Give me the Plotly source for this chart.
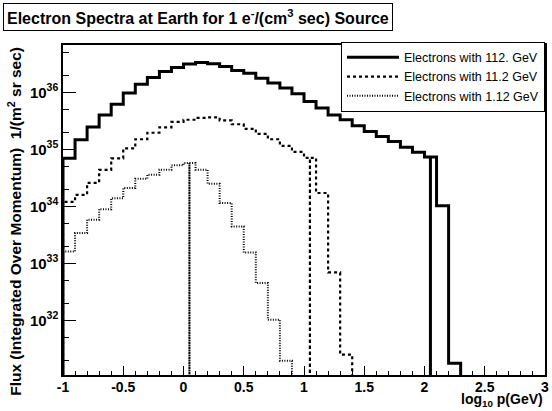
import numpy as np
import plotly.graph_objects as go

# ---- data -------------------------------------------------------------
bin_edges = np.round(np.linspace(-1.0, 3.0, 41), 2)  # log10 p(GeV), 0.1 wide bins

energies = [112.0, 11.2, 1.12]  # GeV
labels = ["Electrons with 112. GeV", "Electrons with 11.2 GeV", "Electrons with 1.12 GeV"]

flux_112 = [7.0e34, 1.47e35, 2.45e35, 4.0e35, 6.2e35, 9.7e35, 1.39e36, 1.82e36, 2.32e36, 2.72e36,
            3.13e36, 3.33e36, 3.16e36, 2.84e36, 2.41e36, 2.17e36, 1.77e36, 1.45e36, 1.19e36, 9.4e35,
            6.9e35, 5.3e35, 4.0e35, 3.3e35, 2.6e35, 2.05e35, 1.68e35, 1.37e35, 1.09e35, 8.9e34,
            7.3e34, 1.02e34, 1.77e31, 0, 0, 0, 0, 0, 0, 0]
flux_11_2 = [1.2e34, 1.59e34, 2.58e34, 4.37e34, 6.95e34, 1.04e35, 1.5e35, 1.95e35, 2.43e35, 3.03e35,
             3.3e35, 3.57e35, 3.64e35, 3.23e35, 2.75e35, 2.29e35, 1.87e35, 1.5e35, 1.15e35, 9.0e34,
             7.1e34, 1.71e34, 6.9e32, 2.5e31, 0, 0, 0, 0, 0, 0,
             0, 0, 0, 0, 0, 0, 0, 0, 0, 0]
flux_1_12 = [1.61e33, 3.39e33, 5.8e33, 8.9e33, 1.39e34, 2.09e34, 3.03e34, 3.57e34, 4.37e34, 5.24e34,
             5.73e34, 4.37e34, 2.48e34, 1.14e34, 4.42e33, 1.55e33, 4.5e32, 1.02e32, 1.95e31, 0,
             0, 0, 0, 0, 0, 0, 0, 0, 0, 0,
             0, 0, 0, 0, 0, 0, 0, 0, 0, 0]

x_tick_vals = [-1, -0.5, 0, 0.5, 1, 1.5, 2, 2.5, 3]
x_tick_text = ["-1", "-0.5", "0", "0.5", "1", "1.5", "2", "2.5", "3"]
y_tick_vals = [1e32, 1e33, 1e34, 1e35, 1e36]
y_tick_text = ["10<sup>32</sup>", "10<sup>33</sup>", "10<sup>34</sup>", "10<sup>35</sup>", "10<sup>36</sup>"]

# ---- helpers ------------------------------------------------------------
FLOOR = 1e20  # stands in for empty bins on the log axis (below the visible range)


def step_path(edges, vals, dip):
    xs, ys = [edges[0]], [FLOOR]
    for i, v in enumerate(vals):
        v = v if v > 0 else FLOOR
        lo, hi = edges[i], edges[i + 1]
        xs.append(lo); ys.append(v)
        if lo < dip < hi:
            xs += [dip, dip, dip]
            ys += [v, FLOOR, v]
        xs.append(hi); ys.append(v)
    xs.append(edges[-1]); ys.append(FLOOR)
    return xs, ys


FONT = "Liberation Sans, Arial, Helvetica, sans-serif"
styles = [dict(width=3, dash="solid"),
          dict(width=2.2, dash="3px,3px"),
          dict(width=2, dash="1px,1.5px")]

fig = go.Figure()
for flux, e, lab, st in zip([flux_112, flux_11_2, flux_1_12], energies, labels, styles):
    xs, ys = step_path(bin_edges, flux, np.log10(e))
    fig.add_trace(go.Scatter(x=xs, y=ys, mode="lines", name=lab,
                             line=dict(color="black", width=st["width"], dash=st["dash"])))

fig.update_layout(
    width=552, height=411,
    margin=dict(l=63, r=3, t=45, b=36),
    paper_bgcolor="white", plot_bgcolor="white",
    font=dict(family=FONT, color="black"),
    showlegend=True,
    legend=dict(x=1, xanchor="right", y=1.01, yanchor="top",
                bgcolor="white", bordercolor="black", borderwidth=1,
                font=dict(family=FONT, size=12.5, color="black"),
                itemwidth=52, tracegroupgap=0),
    xaxis=dict(range=[-1, 3], showgrid=False, zeroline=False,
               showline=True, linecolor="black", linewidth=1.5, mirror=True,
               ticks="inside", ticklen=9, tickcolor="black",
               tickvals=x_tick_vals, ticktext=x_tick_text, ticklabeloverflow="allow",
               ticklabelstandoff=-2,
               tickfont=dict(family=FONT, size=14, color="black", weight="bold"),
               minor=dict(ticks="inside", ticklen=4, dtick=0.1, tickcolor="black", showgrid=False)),
    yaxis=dict(type="log", range=[31.04, 36.83], showgrid=False, zeroline=False,
               showline=True, linecolor="black", linewidth=1.5, mirror=True,
               ticks="inside", ticklen=13, tickcolor="black",
               tickvals=y_tick_vals, ticktext=y_tick_text, ticklabeloverflow="allow",
               tickfont=dict(family=FONT, size=15, color="black", weight="bold"),
               minor=dict(ticks="inside", ticklen=6, tickcolor="black", showgrid=False)),
)

fig.add_annotation(
    text="Electron Spectra at Earth for 1 e<sup>-</sup>/(cm<sup>3</sup> sec) Source",
    xref="paper", yref="paper", x=-0.1235, y=1.127, xanchor="left", yanchor="top",
    showarrow=False, font=dict(family=FONT, size=16, color="black", weight="bold"),
    bordercolor="black", borderwidth=1, borderpad=3, bgcolor="white")

fig.add_annotation(
    text="Flux (Integrated Over Momentum)  1/(m<sup>2</sup> sr sec)",
    xref="paper", yref="paper", x=-0.101, y=1.0, xanchor="center", yanchor="top",
    textangle=-90, showarrow=False,
    font=dict(family=FONT, size=15.5, color="black", weight="bold"))

fig.add_annotation(
    text="log<sub>10</sub> p(GeV)",
    xref="paper", yref="paper", x=1.0, y=-0.109, xanchor="right", yanchor="bottom",
    showarrow=False, font=dict(family=FONT, size=14, color="black", weight="bold"))

fig.write_html("out.html", config={"displayModeBar": False},
               post_script="document.body.style.margin='0px';")
